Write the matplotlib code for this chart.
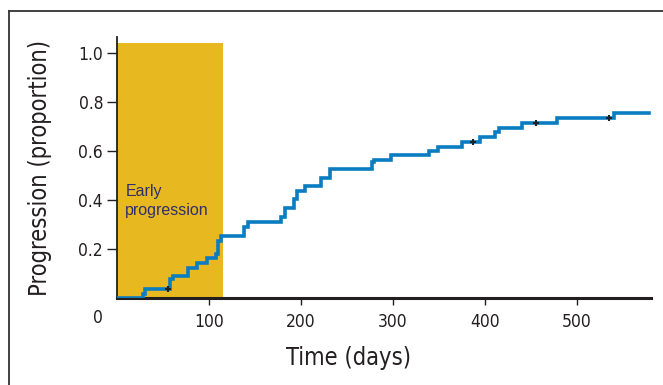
import numpy as np
import matplotlib
matplotlib.use('Agg')
import matplotlib.pyplot as plt
from matplotlib.lines import Line2D
from matplotlib.patches import Rectangle

plt.rcParams['font.family'] = ['DejaVu Sans']
plt.rcParams['font.stretch'] = 'condensed'

# step times (days) and cumulative progression after each step
times = [0, 28, 30, 58, 61, 77, 87, 98, 108, 110, 113, 138, 142, 178, 183, 193,
         196, 205, 222, 232, 277, 280, 298, 339, 349, 375, 395, 411, 416, 441,
         479, 541, 579]
progression = [0, 0.018, 0.035, 0.077, 0.09, 0.124, 0.142, 0.163, 0.179, 0.232,
               0.254, 0.289, 0.309, 0.329, 0.366, 0.402, 0.435, 0.455, 0.488,
               0.528, 0.553, 0.565, 0.582, 0.600, 0.618, 0.635, 0.658, 0.677,
               0.695, 0.715, 0.733, 0.755, 0.755]

# censored observations
cens_t = [56, 387, 456, 535]
cens_y = [0.035, 0.635, 0.715, 0.733]

early_end = 115
x_ticks = [100, 200, 300, 400, 500]
y_ticks = [0.2, 0.4, 0.6, 0.8, 1.0]

fig = plt.figure(figsize=(6.63, 3.85), dpi=100)
ax = fig.add_axes([117 / 663, 1 - 298 / 385, (651 - 117) / 663, (298 - 37) / 385])

ax.add_patch(Rectangle((0, 0), early_end, 1.04, color='#E8B820', lw=0, zorder=1))
ax.text(9, 0.395, 'Early\nprogression', color='#2E2F6B', fontsize=11.5,
        family=['Liberation Sans', 'DejaVu Sans'], stretch='normal',
        va='center', ha='left', linespacing=1.3, zorder=3)

ax.plot(times, progression, drawstyle='steps-post', color='#0A7DC2', lw=2.6,
        zorder=4, solid_joinstyle='miter')
ax.plot(cens_t, cens_y, '+', color='#222222', ms=5, mew=1.5, zorder=5)

ax.set_xlim(0, 581)
ax.set_ylim(0, 1.065)
ax.set_xticks(x_ticks)
ax.set_xticklabels([str(v) for v in x_ticks])
ax.set_yticks(y_ticks)
ax.set_yticklabels(['%.1f' % v for v in y_ticks])
ax.tick_params(axis='x', length=5, width=1, color='#231F20', labelsize=12.5,
               pad=6, labelcolor='#231F20')
ax.tick_params(axis='y', length=7, width=1, color='#231F20', labelsize=12.5,
               pad=3, labelcolor='#231F20')
ax.annotate('0', xy=(0, 0), xycoords='data', xytext=(-14, -8),
            textcoords='offset points', ha='center', va='top', fontsize=12.5,
            color='#231F20')

for s in ['top', 'right']:
    ax.spines[s].set_visible(False)
ax.spines['left'].set_linewidth(1.3)
ax.spines['left'].set_color('#231F20')
ax.spines['bottom'].set_linewidth(2.2)
ax.spines['bottom'].set_color('#231F20')

ax.set_xlabel('Time (days)', fontsize=17, color='#231F20')
ax.xaxis.set_label_coords(0.434, -0.183)
ax.set_ylabel('Progression (proportion)', fontsize=17, color='#231F20', labelpad=19)

# outer frame (left and top edges visible)
fig.add_artist(Line2D([9 / 663, 9 / 663], [0, 1 - 11 / 385], color='#333333', lw=1.3))
fig.add_artist(Line2D([9 / 663, 1], [1 - 11 / 385, 1 - 11 / 385], color='#333333', lw=1.3))

fig.savefig('out.png', dpi=100)
